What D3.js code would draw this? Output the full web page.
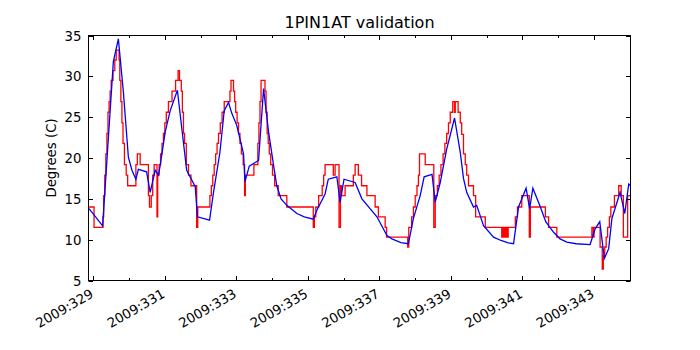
<!DOCTYPE html>
<html lang="en">
<head>
	<meta charset="UTF-8"/>
	<title>1PIN1AT validation</title>
	<script src="https://d3js.org/d3.v7.min.js"></script>
	<style>
		body { margin:0; background:#fff; }
		svg { display:block; font-family:"DejaVu Sans", sans-serif; }
	</style>
</head>
<body>
<script>

	// day-of-year (2009) and temperature
	var measured = [
		[328.88,14.0],[329.02,11.5],[329.27,12.8],[329.29,15.4],[329.32,17.9],[329.35,20.5],
		[329.38,23.0],[329.41,25.6],[329.44,26.9],[329.47,28.2],[329.50,29.5],[329.55,30.7],
		[329.60,32.0],[329.64,33.2],[329.72,32.0],[329.74,29.5],[329.77,26.9],[329.80,24.3],
		[329.83,21.8],[329.87,19.2],[329.92,17.9],[329.96,16.6],[330.19,19.2],[330.23,20.5],
		[330.31,19.2],[330.54,15.4],[330.57,14.0],[330.62,15.4],[330.66,17.9],[330.70,19.2],
		[330.78,12.8],[330.80,17.9],[330.84,19.2],[330.88,20.5],[330.92,21.8],[330.96,23.0],
		[331.00,24.3],[331.04,25.6],[331.10,26.9],[331.20,28.2],[331.30,29.5],[331.37,30.7],
		[331.41,29.5],[331.46,28.2],[331.49,25.6],[331.52,23.0],[331.55,21.8],[331.60,19.2],
		[331.66,17.9],[331.73,16.6],[331.89,11.5],[331.92,14.0],[332.26,15.4],[332.30,16.6],
		[332.34,17.9],[332.38,19.2],[332.42,20.5],[332.46,21.8],[332.50,23.0],[332.55,24.3],
		[332.60,25.6],[332.66,26.9],[332.82,28.2],[332.85,29.5],[332.92,28.2],[332.95,26.9],
		[332.98,25.6],[333.02,24.3],[333.06,23.0],[333.10,21.8],[333.14,20.5],[333.19,19.2],
		[333.23,15.4],[333.25,17.9],[333.49,19.2],[333.60,21.8],[333.63,24.3],[333.66,26.9],
		[333.69,29.5],[333.80,28.2],[333.83,25.6],[333.86,23.0],[333.89,21.8],[333.92,20.5],
		[333.96,19.2],[334.01,17.9],[334.07,16.6],[334.17,15.4],[334.41,14.0],[335.15,11.5],
		[335.18,12.8],[335.22,14.0],[335.30,15.4],[335.40,16.6],[335.44,17.9],[335.48,19.2],
		[335.71,17.9],[335.76,19.2],[335.87,11.5],[335.91,16.6],[335.94,15.4],[336.04,16.6],
		[336.27,17.9],[336.32,19.2],[336.41,17.9],[336.50,16.6],[336.65,15.4],[336.88,14.0],
		[336.97,12.8],[337.16,11.5],[337.20,10.3],[337.79,9.1],[337.82,11.5],[337.90,12.8],
		[337.95,14.0],[338.00,15.4],[338.05,16.6],[338.09,17.9],[338.12,20.5],[338.28,19.2],
		[338.52,11.5],[338.56,15.4],[338.62,16.6],[338.67,17.9],[338.72,19.2],[338.78,20.5],
		[338.83,21.8],[338.88,23.0],[338.93,24.3],[338.98,25.6],[339.05,26.9],[339.10,25.6],
		[339.12,26.9],[339.20,25.6],[339.26,24.3],[339.30,22.9],[339.35,20.5],[339.40,19.2],
		[339.44,17.9],[339.49,16.6],[339.63,15.4],[339.69,12.8],[339.96,11.5],
		[340.42,10.3],[340.44,11.5],[340.46,10.3],[340.48,11.5],[340.50,10.3],[340.52,11.5],
		[340.54,10.3],[340.56,11.5],[340.58,10.3],[340.60,11.5],[340.80,12.8],[340.86,14.0],
		[340.98,15.4],[341.19,10.3],[341.22,14.0],[341.64,12.8],[341.73,11.5],[341.96,10.3],
		[342.94,11.5],[342.98,10.3],[343.00,11.5],[343.17,9.1],[343.23,6.4],[343.26,8.0],
		[343.30,9.1],[343.34,10.3],[343.38,11.5],[343.43,12.8],[343.47,14.0],[343.57,15.4],
		[343.69,16.6],[343.76,15.4],[343.82,10.3],[343.94,15.4],[344.02,15.4]
	];

	var model = [
		[328.88,13.8],[329.26,11.7],[329.56,31.8],[329.70,34.6],[329.84,28.1],[329.98,20.1],
		[330.08,18.5],[330.19,17.4],[330.26,18.6],[330.49,18.3],[330.59,15.8],[330.73,18.5],
		[330.82,17.9],[330.87,19.1],[331.01,23.2],[331.15,25.8],[331.35,28.3],[331.61,18.5],
		[331.85,16.5],[331.91,12.8],[332.25,12.4],[332.36,15.8],[332.54,20.7],[332.66,25.8],
		[332.78,26.8],[332.87,25.5],[333.01,24.0],[333.20,20.5],[333.24,17.1],[333.36,19.0],
		[333.62,19.7],[333.76,28.5],[333.90,23.2],[334.04,19.1],[334.13,16.6],[334.25,15.0],
		[334.41,14.2],[334.69,13.2],[334.90,12.8],[335.15,12.5],[335.25,13.6],[335.48,15.6],
		[335.57,17.4],[335.81,17.7],[335.90,14.6],[336.01,17.4],[336.32,17.0],[336.51,15.0],
		[336.93,12.8],[337.21,10.5],[337.35,10.1],[337.60,9.65],[337.81,9.5],[337.95,12.6],
		[338.14,15.4],[338.25,17.7],[338.47,18.0],[338.56,14.6],[338.70,17.0],[338.88,21.1],
		[339.10,24.9],[339.26,20.7],[339.35,17.5],[339.44,15.8],[339.63,14.0],[339.72,14.2],
		[339.91,11.7],[340.19,10.3],[340.40,9.9],[340.60,9.6],[340.75,9.5],[340.89,14.0],
		[341.10,16.3],[341.20,13.8],[341.29,16.3],[341.50,14.0],[341.65,12.2],[341.87,10.9],
		[342.05,10.1],[342.24,9.7],[342.50,9.5],[342.89,9.4],[343.03,11.3],[343.16,12.2],
		[343.29,7.7],[343.41,8.9],[343.50,12.6],[343.73,15.8],[343.86,13.2],[343.97,16.8],
		[344.02,16.6]
	];

	var xTicks = [329,331,333,335,337,339,341,343];
	var yTicks = [5,10,15,20,25,30,35];

	var w = 700;
	var h = 350;
	var axL = 88.5, axR = 630.5, axT = 35.5, axB = 280.5;

	var xScale = d3.scaleLinear()
				.domain([328.865,344.02])
				.range([axL,axR]);

	var yScale = d3.scaleLinear()
				.domain([5,35])
				.range([axB,axT]);

	var svg = d3.select("body")
				.append("svg")
				.attr("width",w)
				.attr("height",h);

	svg.append("rect").attr("width",w).attr("height",h).attr("fill","#fff");

	//-------------lines-------------
	svg.append("clipPath").attr("id","clip")
		.append("rect")
		.attr("x",axL).attr("y",axT)
		.attr("width",axR-axL).attr("height",axB-axT);

	var stepLine = d3.line()
				.x(function(d){ return xScale(d[0]); })
				.y(function(d){ return yScale(d[1]); })
				.curve(d3.curveStepAfter);

	var plainLine = d3.line()
				.x(function(d){ return xScale(d[0]); })
				.y(function(d){ return yScale(d[1]); });

	var plot = svg.append("g").attr("clip-path","url(#clip)");

	plot.append("path")
		.attr("d",stepLine(measured))
		.attr("fill","none")
		.attr("stroke","#ff0000")
		.attr("stroke-width",1.3);

	plot.append("path")
		.attr("d",plainLine(model))
		.attr("fill","none")
		.attr("stroke","#0000ff")
		.attr("stroke-width",1.3);

	//-------------ticks (inward, all four sides)-------------
	var minor = d3.range(329,344,1).filter(function(d){ return xTicks.indexOf(d) < 0; });

	function xTick(d,len){
		var x = Math.round(xScale(d)) + 0.5;
		svg.append("line").attr("x1",x).attr("x2",x).attr("y1",axB).attr("y2",axB-len)
			.attr("stroke","#000");
		svg.append("line").attr("x1",x).attr("x2",x).attr("y1",axT).attr("y2",axT+len)
			.attr("stroke","#000");
	}
	xTicks.forEach(function(d){ xTick(d,4.5); });
	minor.forEach(function(d){ xTick(d,2.5); });

	yTicks.forEach(function(d){
		var y = Math.round(yScale(d)) + 0.5;
		svg.append("line").attr("x1",axL).attr("x2",axL+4.5).attr("y1",y).attr("y2",y)
			.attr("stroke","#000");
		svg.append("line").attr("x1",axR).attr("x2",axR-4.5).attr("y1",y).attr("y2",y)
			.attr("stroke","#000");
		svg.append("text")
			.attr("x",axL-7)
			.attr("y",y)
			.attr("dy","0.36em")
			.attr("text-anchor","end")
			.attr("font-size","13.3px")
			.text(d);
	});

	// x labels, rotated like autofmt_xdate
	xTicks.forEach(function(d){
		var x = xScale(d);
		svg.append("text")
			.attr("transform","translate(" + (x+1) + "," + (axB+16) + ") rotate(-30)")
			.attr("text-anchor","end")
			.attr("font-size","13.3px")
			.text("2009:" + d);
	});

	// frame
	svg.append("rect")
		.attr("x",axL).attr("y",axT)
		.attr("width",axR-axL).attr("height",axB-axT)
		.attr("fill","none")
		.attr("stroke","#000");

	//-------------titles-------------
	svg.append("text")
		.attr("x",(axL+axR)/2)
		.attr("y",28)
		.attr("text-anchor","middle")
		.attr("font-size","16px")
		.text("1PIN1AT validation");

	svg.append("text")
		.attr("transform","translate(56," + (axT+axB)/2 + ") rotate(-90)")
		.attr("text-anchor","middle")
		.attr("font-size","13.3px")
		.text("Degrees (C)");

</script>
</body>
</html>
